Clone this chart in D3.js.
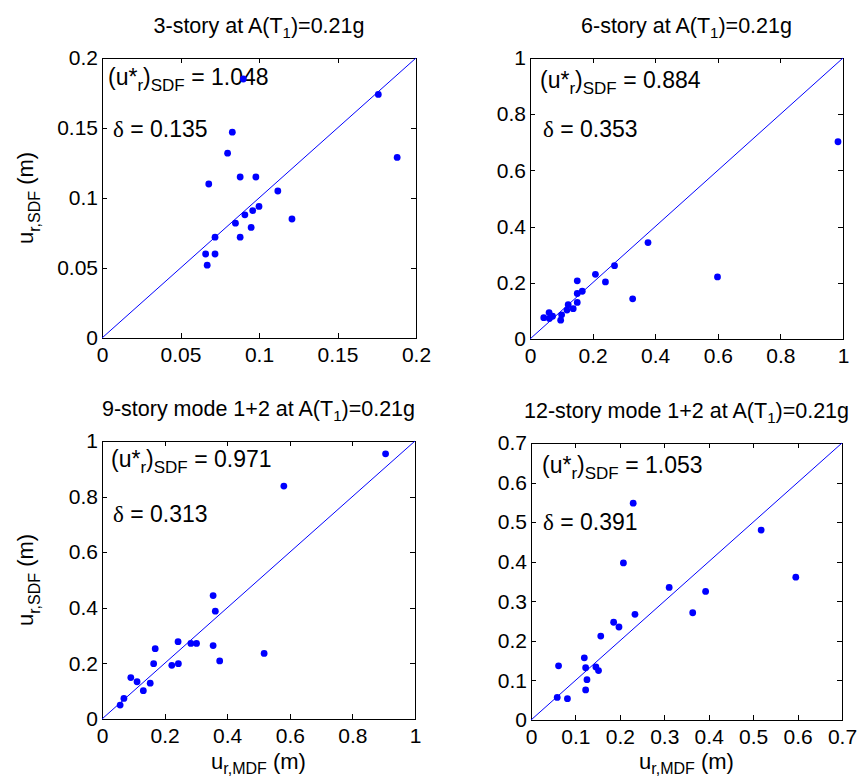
<!DOCTYPE html>
<html lang="en">
<head>
<meta charset="utf-8">
<title>SDF vs MDF roof displacement</title>
<script src="https://cdn.jsdelivr.net/npm/d3@7/dist/d3.min.js"></script>
<style>
  body { margin: 0; background: #fff; }
  svg text { font-family: "Liberation Sans", Arial, Helvetica, sans-serif; fill: #000; }
  .dot { fill: #0000ff; }
  .diag { stroke: #0000ff; stroke-width: 1; fill: none; }
  .box { fill: none; stroke: #000; stroke-width: 1; shape-rendering: crispEdges; }
  .tick line { stroke: #000; shape-rendering: crispEdges; }
  .greek { font-family: "Liberation Serif", "DejaVu Serif", serif; }
</style>
</head>
<body>
<div id="chart"></div>
<script>
// panel titles (prefix before " at A(T1)=0.21g")
var titlePrefix = ["3-story", "6-story", "9-story mode 1+2", "12-story mode 1+2"];
var ratioText = ["1.048", "0.884", "0.971", "1.053"];
var deltaText = ["0.135", "0.353", "0.313", "0.391"];

// tick values
var ticks3 = [0, 0.05, 0.1, 0.15, 0.2];
var ticks6 = [0, 0.2, 0.4, 0.6, 0.8, 1];
var ticks9 = [0, 0.2, 0.4, 0.6, 0.8, 1];
var ticks12 = [0, 0.1, 0.2, 0.3, 0.4, 0.5, 0.6, 0.7];

// 3-story: u_r,MDF vs u_r,SDF
var mdf3 = [0.090, 0.176, 0.083, 0.080, 0.188, 0.068, 0.088, 0.098, 0.112, 0.100,
            0.096, 0.091, 0.085, 0.121, 0.095, 0.072, 0.088, 0.066, 0.072, 0.067];
var sdf3 = [0.185, 0.174, 0.147, 0.132, 0.129, 0.110, 0.115, 0.115, 0.105, 0.094,
            0.091, 0.088, 0.082, 0.085, 0.079, 0.072, 0.072, 0.060, 0.060, 0.052];

// 6-story
var mdf6 = [0.984, 0.377, 0.270, 0.209, 0.241, 0.599, 0.328, 0.151, 0.167, 0.151,
            0.151, 0.138, 0.122, 0.118, 0.101, 0.098, 0.061, 0.062, 0.072, 0.044];
var sdf6 = [0.702, 0.343, 0.261, 0.230, 0.203, 0.221, 0.143, 0.207, 0.170, 0.162,
            0.130, 0.108, 0.122, 0.103, 0.086, 0.067, 0.094, 0.073, 0.081, 0.076];

// 9-story mode 1+2
var mdf9 = [0.906, 0.581, 0.355, 0.362, 0.243, 0.284, 0.302, 0.355, 0.518, 0.376,
            0.170, 0.165, 0.223, 0.244, 0.092, 0.112, 0.154, 0.132, 0.070, 0.058];
var sdf9 = [0.954, 0.838, 0.444, 0.388, 0.278, 0.272, 0.272, 0.264, 0.236, 0.209,
            0.253, 0.199, 0.193, 0.199, 0.149, 0.134, 0.129, 0.102, 0.074, 0.050];

// 12-story mode 1+2
var mdf12 = [0.230, 0.518, 0.208, 0.596, 0.311, 0.393, 0.364, 0.234, 0.186, 0.198,
             0.157, 0.120, 0.062, 0.123, 0.146, 0.152, 0.126, 0.123, 0.059, 0.082];
var sdf12 = [0.548, 0.480, 0.397, 0.361, 0.335, 0.325, 0.271, 0.267, 0.247, 0.235,
             0.212, 0.157, 0.137, 0.132, 0.134, 0.125, 0.102, 0.076, 0.057, 0.054];

var panels = [
  {x: mdf3,  y: sdf3,  ticks: ticks3,  left: 102, right: 416, top: 58,  bottom: 338, ann: [6, 27, 11, 79],  ylab: true,  xlab: false},
  {x: mdf6,  y: sdf6,  ticks: ticks6,  left: 530, right: 843, top: 58,  bottom: 339, ann: [10, 30, 13, 79], ylab: false, xlab: false},
  {x: mdf9,  y: sdf9,  ticks: ticks9,  left: 102, right: 415, top: 441, bottom: 719, ann: [9, 26, 11, 81],  ylab: true,  xlab: true},
  {x: mdf12, y: sdf12, ticks: ticks12, left: 531, right: 842, top: 443, bottom: 720, ann: [11, 30, 12, 87], ylab: false, xlab: true}
];

var W = 861, H = 780;
var fs = 21, titleFs = 21.5, annFs = 23, labFs = 22;

var svg = d3.select("#chart").append("svg")
    .attr("width", W)
    .attr("height", H);

function fmt(v) { return v === 0 ? "0" : String(+v.toFixed(2)); }

panels.forEach(function(p, i) {
  var max = p.ticks[p.ticks.length - 1];
  var x = d3.scaleLinear().domain([0, max]).range([p.left, p.right]);
  var y = d3.scaleLinear().domain([0, max]).range([p.bottom, p.top]);
  var g = svg.append("g");
  var cx = (p.left + p.right) / 2;

  // title
  var t = g.append("text")
      .attr("x", cx)
      .attr("y", p.top - 25)
      .attr("text-anchor", "middle")
      .style("font-size", titleFs + "px");
  t.append("tspan").text(titlePrefix[i] + " at A(T");
  t.append("tspan").attr("dy", 5).style("font-size", "15px").text("1");
  t.append("tspan").attr("dy", -5).text(")=0.21g");

  // axes, ticks pointing inside on all four sides
  g.append("g")
      .attr("transform", "translate(0," + p.bottom + ")")
      .call(d3.axisBottom(x).tickValues(p.ticks).tickFormat(fmt).tickSizeInner(-5).tickSizeOuter(0).tickPadding(9))
      .call(function(a) { a.select(".domain").remove(); a.selectAll("text").style("font-size", fs + "px"); });
  g.append("g")
      .attr("transform", "translate(" + p.left + ",0)")
      .call(d3.axisLeft(y).tickValues(p.ticks).tickFormat(fmt).tickSizeInner(-5).tickSizeOuter(0).tickPadding(4))
      .call(function(a) { a.select(".domain").remove(); a.selectAll("text").style("font-size", fs + "px"); });
  g.append("g")
      .attr("transform", "translate(0," + p.top + ")")
      .call(d3.axisTop(x).tickValues(p.ticks).tickFormat("").tickSizeInner(-5).tickSizeOuter(0))
      .call(function(a) { a.select(".domain").remove(); });
  g.append("g")
      .attr("transform", "translate(" + p.right + ",0)")
      .call(d3.axisRight(y).tickValues(p.ticks).tickFormat("").tickSizeInner(-5).tickSizeOuter(0))
      .call(function(a) { a.select(".domain").remove(); });

  g.append("rect")
      .attr("class", "box")
      .attr("x", p.left + 0.5)
      .attr("y", p.top + 0.5)
      .attr("width", p.right - p.left)
      .attr("height", p.bottom - p.top);

  // 1:1 line
  g.append("line")
      .attr("class", "diag")
      .attr("x1", x(0)).attr("y1", y(0))
      .attr("x2", x(max)).attr("y2", y(max));

  // annotations
  var a1 = g.append("text")
      .attr("x", p.left + p.ann[0])
      .attr("y", p.top + p.ann[1])
      .style("font-size", annFs + "px");
  a1.append("tspan").text("(u*");
  a1.append("tspan").attr("dy", 6).style("font-size", "17px").text("r");
  a1.append("tspan").attr("dy", -6).text(")");
  a1.append("tspan").attr("dy", 6).style("font-size", "17px").text("SDF");
  a1.append("tspan").attr("dy", -6).text(" = " + ratioText[i]);

  var a2 = g.append("text")
      .attr("x", p.left + p.ann[2])
      .attr("y", p.top + p.ann[3])
      .style("font-size", annFs + "px");
  a2.append("tspan").attr("class", "greek").text("\u03b4");
  a2.append("tspan").text(" = " + deltaText[i]);

  // points
  g.selectAll(".dot")
      .data(p.x.map(function(v, k) { return [v, p.y[k]]; }))
    .enter().append("circle")
      .attr("class", "dot")
      .attr("cx", function(d) { return x(d[0]); })
      .attr("cy", function(d) { return y(d[1]); })
      .attr("r", 3.4);

  // axis labels
  if (p.ylab) {
    var yl = g.append("text")
        .attr("transform", "translate(33," + ((p.top + p.bottom) / 2) + ") rotate(-90)")
        .attr("text-anchor", "middle")
        .style("font-size", labFs + "px");
    yl.append("tspan").text("u");
    yl.append("tspan").attr("dy", 7).style("font-size", "16px").text("r,SDF");
    yl.append("tspan").attr("dy", -7).text(" (m)");
  }
  if (p.xlab) {
    var xl = g.append("text")
        .attr("x", cx)
        .attr("y", 769)
        .attr("text-anchor", "middle")
        .style("font-size", labFs + "px");
    xl.append("tspan").text("u");
    xl.append("tspan").attr("dy", 5).style("font-size", "16px").text("r,MDF");
    xl.append("tspan").attr("dy", -5).text(" (m)");
  }
});
</script>
</body>
</html>
